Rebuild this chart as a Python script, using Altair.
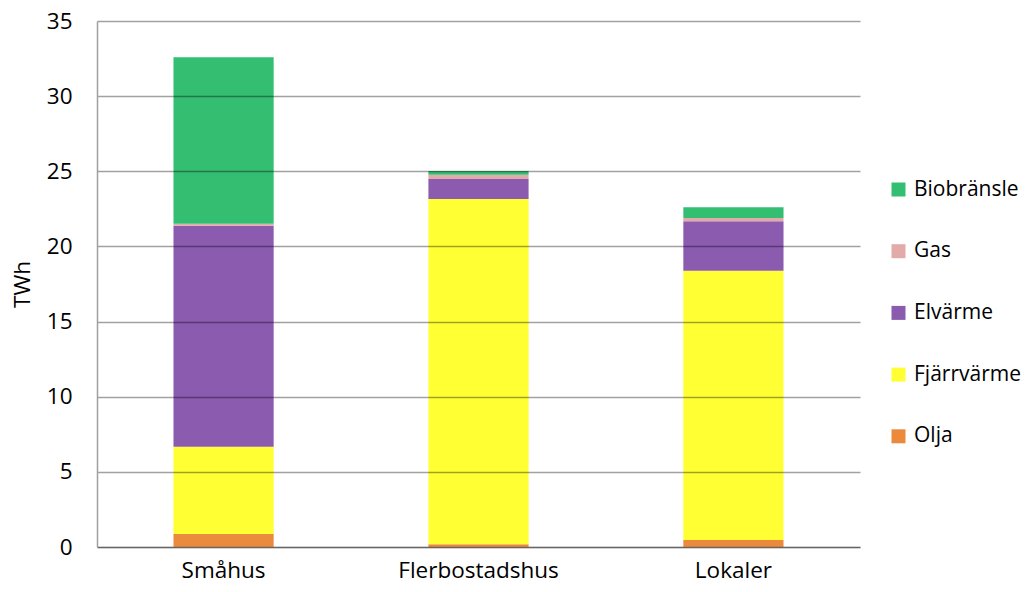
import altair as alt
import pandas as pd

categories = ["Småhus", "Flerbostadshus", "Lokaler"]
series = ["Olja", "Fjärrvärme", "Elvärme", "Gas", "Biobränsle"]
olja = [0.86, 0.18, 0.47]
fjarrvarme = [5.81, 22.97, 17.91]
elvarme = [14.71, 1.34, 3.29]
gas = [0.13, 0.28, 0.22]
biobransle = [11.07, 0.25, 0.71]
colors = ["#EB8A3C", "#FFFF33", "#8B5BB0", "#E3AAAA", "#33BE72"]

values = [olja, fjarrvarme, elvarme, gas, biobransle]
rows = []
for si, (s, vals) in enumerate(zip(series, values)):
    for c, v in zip(categories, vals):
        rows.append({"kategori": c, "serie": s, "TWh": v, "ordning": si})
df = pd.DataFrame(rows)

legend_order = list(reversed(series))
legend_colors = list(reversed(colors))

FONT = "Open Sans"
FS = 22.5
LFS = 21

chart = alt.Chart(df).mark_bar(opacity=1).encode(
    x=alt.X("kategori:N", sort=categories, title=None,
            scale=alt.Scale(paddingInner=0.607, paddingOuter=0.3),
            axis=alt.Axis(labelAngle=0, labelFontSize=FS, labelFont=FONT, labelColor="#000",
                          tickSize=0, labelPadding=12, domainColor="#A0A0A0", domainWidth=1.5)),
    y=alt.Y("TWh:Q", title="TWh",
            scale=alt.Scale(domain=[0, 35], nice=False),
            axis=alt.Axis(values=[0, 5, 10, 15, 20, 25, 30, 35], labelFontSize=FS, labelFont=FONT,
                          labelColor="#000", tickSize=0, labelPadding=25,
                          titleFont=FONT, titleFontSize=FS, titleFontWeight="normal", titleColor="#000",
                          titlePadding=12, zindex=1,
                          gridColor="#000000", gridOpacity=0.37, gridWidth=1.5,
                          domainColor="#A0A0A0", domainWidth=1.5)),
    color=alt.Color("serie:N",
                    scale=alt.Scale(domain=legend_order, range=legend_colors),
                    legend=alt.Legend(title=None, orient="none", legendX=791, legendY=158,
                                      padding=0,
                                      symbolType="square", symbolSize=196, symbolStrokeWidth=0,
                                      symbolOpacity=1,
                                      labelFont=FONT, labelFontSize=LFS, labelColor="#000",
                                      rowPadding=39.7, labelOffset=5)),
    order=alt.Order("ordning:Q", sort="ascending"),
).properties(
    width=763, height=526,
    autosize=alt.AutoSizeParams(type="none"),
    padding={"left": 97, "top": 21, "right": 172, "bottom": 45},
).configure_view(stroke=None).configure_axis(grid=True).configure_axisX(grid=False)

chart.save("out.html", embed_options={"renderer": "svg", "actions": False})
